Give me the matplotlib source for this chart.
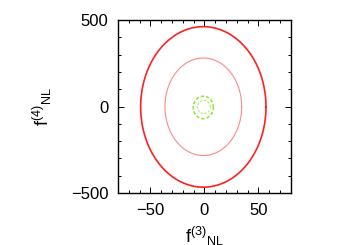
import numpy as np
import matplotlib
matplotlib.use('Agg')
import matplotlib.pyplot as plt
from matplotlib.ticker import MultipleLocator

plt.rcParams['font.family'] = ['Liberation Sans', 'DejaVu Sans']
plt.rcParams['mathtext.fontset'] = 'custom'
plt.rcParams['mathtext.rm'] = 'Liberation Sans'
plt.rcParams['mathtext.it'] = 'Liberation Sans'

# contornos: centro e semi-eixos (f3, f4)
nomes = ['red_2sig', 'red_1sig', 'green_2sig', 'green_1sig']
centro_x = [-1, -1, -1, -0.5]
centro_y = [-2, -1, -5, -2.5]
semi_x = [58, 35.5, 9.3, 6.0]
semi_y = [464, 282, 65, 37.5]
cores = ['#ff2020', '#ff8888', '#8ee830', '#b0f070']
larguras = [1.2, 0.8, 1.1, 0.8]
estilos = ['-', '-', (0, (2.2, 1.3)), (0, (2.2, 1.3))]

fig = plt.figure(figsize=(3.5, 2.45), dpi=100)
ax = fig.add_axes([0.337, 0.212, 0.494, 0.706])

t = np.linspace(0, 2 * np.pi, 400)
for cx, cy, sx, sy, c, lw, ls in zip(centro_x, centro_y, semi_x, semi_y, cores, larguras, estilos):
    ax.plot(cx + sx * np.cos(t), cy + sy * np.sin(t), color=c, lw=lw, ls=ls)

ax.set_xlim(-80, 80)
ax.set_ylim(-500, 500)
ax.xaxis.set_major_locator(MultipleLocator(50))
ax.xaxis.set_minor_locator(MultipleLocator(10))
ax.yaxis.set_major_locator(MultipleLocator(500))
ax.yaxis.set_minor_locator(MultipleLocator(100))
ax.tick_params(which='both', direction='in', top=True, right=True, labelsize=12, width=0.7)
ax.tick_params(axis='x', which='major', length=4, pad=7)
ax.tick_params(axis='y', which='major', length=4, pad=7)
ax.tick_params(which='minor', length=2)
for s in ax.spines.values():
    s.set_linewidth(1.0)

ax.set_xlabel(r'$\mathrm{f}^{(3)}{}_{\mathrm{NL}}$', fontsize=13, labelpad=5)
ax.set_ylabel(r'$\mathrm{f}^{(4)}{}_{\mathrm{NL}}$', fontsize=13, labelpad=12)

fig.savefig('out.png', dpi=100)
